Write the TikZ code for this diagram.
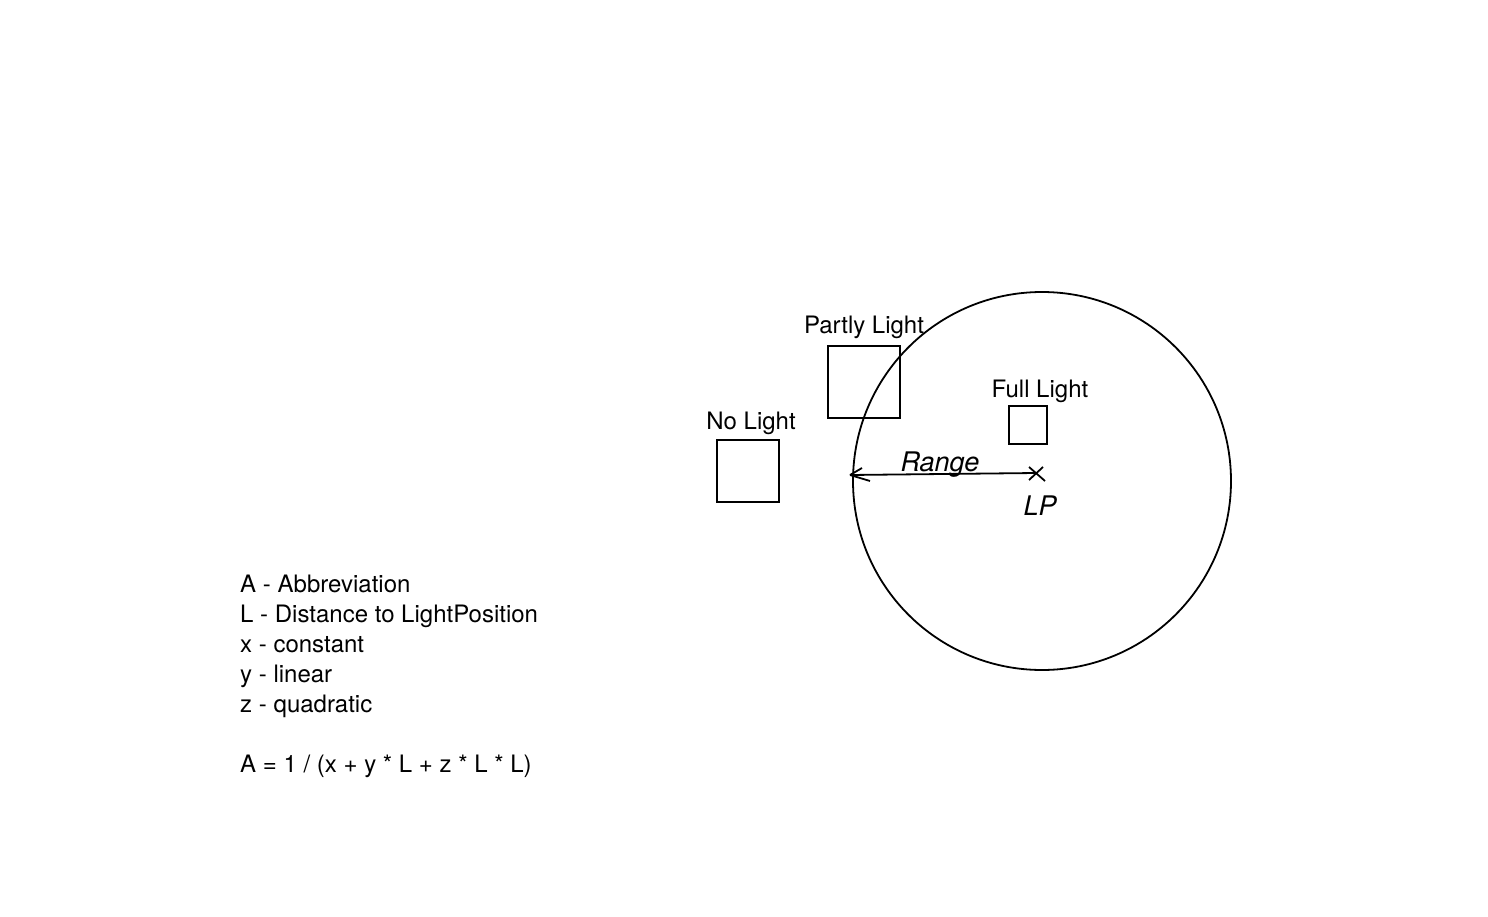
\documentclass[tikz,border=0pt]{standalone}
\usepackage{fontspec}
\setmainfont{TeX Gyre Heros}
\usetikzlibrary{arrows.meta,calc}
\begin{document}
\begin{tikzpicture}[x=1pt,y=-1pt,
  lbl/.style={font=\fontsize{24}{30}\selectfont, inner sep=0pt},
  box/.style={draw, line width=1.8pt},
  hand/.style={font=\fontsize{27}{30}\itshape, inner sep=0pt},
  thin/.style={line width=1.8pt}]
\useasboundingbox[fill=white] (0,0) rectangle (1488,917);
% circle
\node[draw, thin, circle, minimum size=378pt, inner sep=0pt] (range) at (1042,481) {};
% boxes
\node[box, minimum width=72pt, minimum height=72pt, inner sep=0pt] (partly) at (864,382) {};
\node[box, minimum width=38pt, minimum height=38pt, inner sep=0pt] (full) at (1028,425) {};
\node[box, minimum width=62pt, minimum height=62pt, inner sep=0pt] (nolight) at (748,471) {};
% labels
\node[lbl, anchor=base] (tpartly) at (864,333) {Partly Light};
\node[lbl, anchor=base] (tfull) at (1040,397) {Full Light};
\node[lbl, anchor=base] (tno) at (751,429) {No Light};
% light position and range arrow
\coordinate (lp) at (1036,473);
\coordinate (edge) at (850,475);
\coordinate (h1) at (862,468);
\coordinate (h2) at (870,481);
\coordinate (c1) at (1029,467);
\coordinate (c2) at (1045,481);
\coordinate (c3) at (1029,480);
\coordinate (c4) at (1043,467);
\draw[thin] (lp) -- (edge);
\draw[thin] (edge) -- (h1);
\draw[thin] (edge) -- (h2);
\draw[thin] (c1) -- (c2);
\draw[thin] (c3) -- (c4);
\node[hand, anchor=base] (trange) at (940,471) {Range};
\node[hand, anchor=base] (tlp) at (1040,515) {LP};
% legend
\node[lbl, anchor=base west] (l1) at (240,592) {A - Abbreviation};
\node[lbl, anchor=base west] (l2) at (240,622) {L - Distance to LightPosition};
\node[lbl, anchor=base west] (l3) at (240,652) {x - constant};
\node[lbl, anchor=base west] (l4) at (240,682) {y - linear};
\node[lbl, anchor=base west] (l5) at (240,712) {z - quadratic};
\node[lbl, anchor=base west] (l6) at (240,772) {A = 1 / (x + y * L + z * L * L)};
\end{tikzpicture}
\end{document}
